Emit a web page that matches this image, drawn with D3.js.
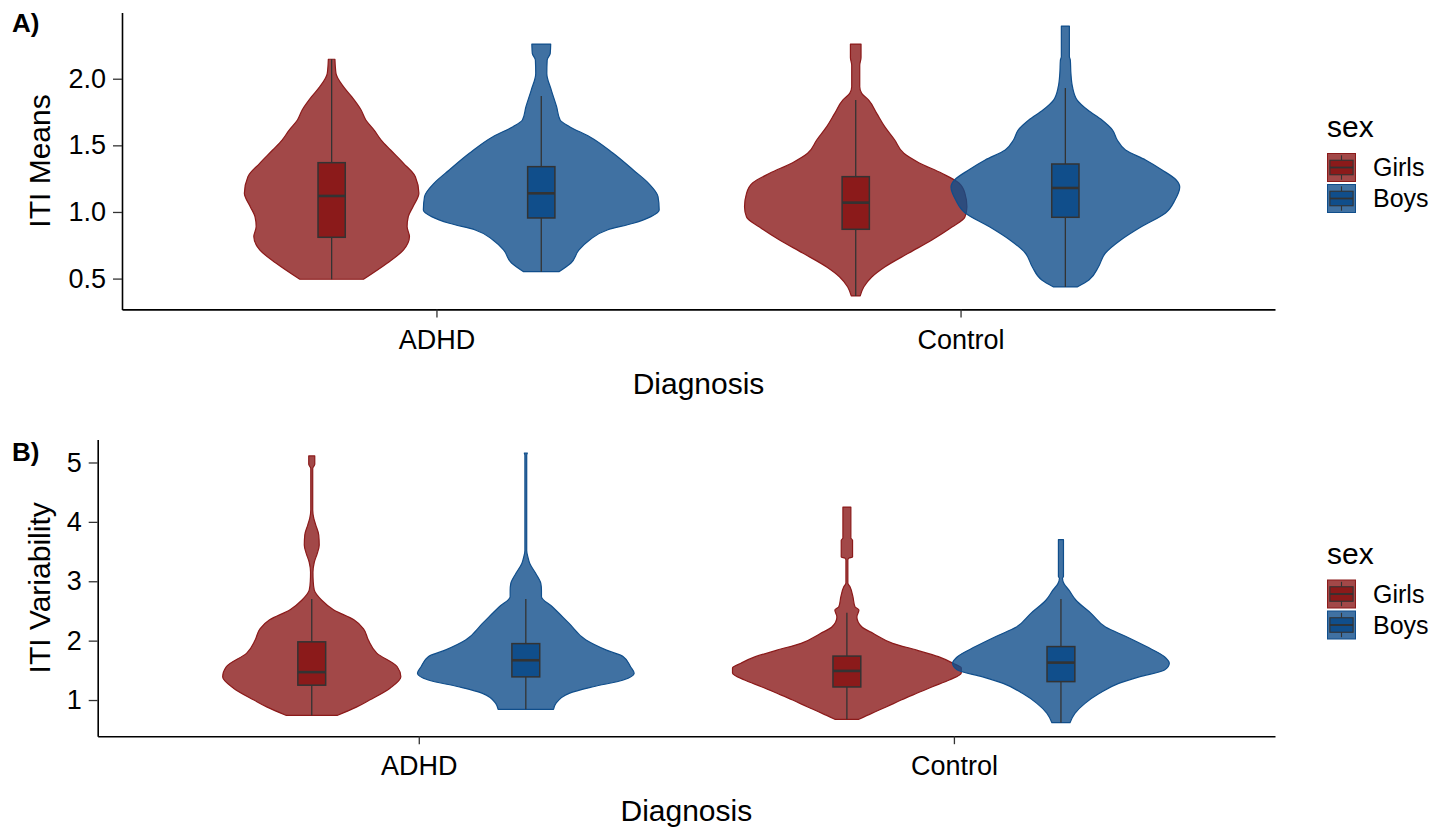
<!DOCTYPE html>
<html>
<head>
<meta charset="utf-8">
<script src="https://cdn.jsdelivr.net/npm/d3@7"></script>
<style>
  body { margin: 0; background: #fff; }
  svg { display: block; }
  text { font-family: "Liberation Sans", Arial, Helvetica, sans-serif; }
</style>
</head>
<body>
<svg id="chart" width="1450" height="830"></svg>
<script>
// ---- data ----------------------------------------------------------------
const categories = ["ADHD", "Control"];
const sexes = ["Girls", "Boys"];
const sexColors = ["#8B1A1A", "#104E8B"];
const meansTicks = [0.5, 1.0, 1.5, 2.0];
const variabilityTicks = [1, 2, 3, 4, 5];

// Violin outlines: value grid (bottom to top) and relative kernel density
const meansADHDGirlsY = [0.495, 0.615, 0.715, 0.815, 0.89, 0.965, 1.04, 1.14, 1.265, 1.365, 1.465, 1.54, 1.615, 1.69, 1.765, 1.865, 1.94, 2.04, 2.146];
const meansADHDGirlsDensity = [0.27, 0.47, 0.61, 0.66, 0.64, 0.65, 0.69, 0.74, 0.71, 0.61, 0.50, 0.42, 0.36, 0.29, 0.25, 0.17, 0.10, 0.037, 0.028];
const meansADHDBoysY = [0.552, 0.615, 0.715, 0.79, 0.865, 0.915, 0.965, 1.015, 1.115, 1.215, 1.315, 1.44, 1.565, 1.64, 1.69, 1.79, 1.915, 2.04, 2.14, 2.19, 2.26];
const meansADHDBoysDensity = [0.15, 0.25, 0.32, 0.41, 0.56, 0.78, 0.93, 1.0, 0.99, 0.91, 0.78, 0.61, 0.41, 0.24, 0.16, 0.13, 0.085, 0.047, 0.05, 0.076, 0.08];
const meansControlGirlsY = [0.37, 0.437, 0.512, 0.587, 0.692, 0.79, 0.887, 0.962, 1.04, 1.14, 1.2175, 1.29, 1.37, 1.44, 1.54, 1.64, 1.74, 1.84, 1.89, 1.94, 2.04, 2.1, 2.16, 2.26];
const meansControlGirlsDensity = [0.038, 0.068, 0.136, 0.246, 0.45, 0.646, 0.816, 0.926, 0.943, 0.926, 0.875, 0.73, 0.535, 0.408, 0.331, 0.246, 0.178, 0.11, 0.051, 0.034, 0.034, 0.034, 0.045, 0.045];
const meansControlBoysY = [0.4375, 0.49, 0.587, 0.692, 0.79, 0.8875, 0.9925, 1.09, 1.1875, 1.24, 1.315, 1.39, 1.465, 1.54, 1.615, 1.69, 1.765, 1.84, 1.94, 2.04, 2.14, 2.165, 2.395];
const meansControlBoysDensity = [0.10, 0.20, 0.28, 0.34, 0.47, 0.64, 0.85, 0.93, 0.97, 0.94, 0.82, 0.68, 0.51, 0.44, 0.40, 0.31, 0.19, 0.10, 0.06, 0.047, 0.042, 0.034, 0.034];

const varADHDGirlsY = [0.74, 0.88, 1.0, 1.2, 1.39, 1.56, 1.79, 2.01, 2.2, 2.35, 2.52, 2.68, 2.85, 3.0, 3.15, 3.32, 3.47, 3.61, 3.78, 3.95, 4.06, 4.2, 4.9, 4.97, 5.11];
const varADHDGirlsDensity = [0.21, 0.37, 0.48, 0.65, 0.74, 0.71, 0.54, 0.47, 0.43, 0.35, 0.18, 0.083, 0.021, 0.012, 0.01, 0.021, 0.046, 0.062, 0.058, 0.033, 0.017, 0.008, 0.008, 0.025, 0.025];
const varADHDBoysY = [0.843, 0.944, 1.113, 1.224, 1.337, 1.45, 1.56, 1.73, 1.84, 2.01, 2.29, 2.57, 2.74, 2.85, 2.96, 3.13, 3.3, 3.41, 3.52, 5.12, 5.16];
const varADHDBoysDensity = [0.23, 0.25, 0.36, 0.56, 0.81, 0.90, 0.87, 0.81, 0.67, 0.50, 0.36, 0.22, 0.13, 0.13, 0.125, 0.083, 0.033, 0.017, 0.0075, 0.0075, 0.0125];
const varControlGirlsY = [0.675, 0.78, 0.887, 1.0, 1.113, 1.224, 1.337, 1.455, 1.54, 1.62, 1.73, 1.84, 1.955, 2.12, 2.23, 2.4, 2.515, 2.57, 2.74, 2.91, 2.97, 3.36, 3.39, 3.41, 3.69, 3.73, 4.25];
const varControlGirlsDensity = [0.10, 0.21, 0.33, 0.45, 0.58, 0.71, 0.85, 0.95, 0.95, 0.88, 0.76, 0.58, 0.38, 0.22, 0.125, 0.083, 0.10, 0.067, 0.05, 0.025, 0.008, 0.008, 0.017, 0.047, 0.047, 0.033, 0.033];
const varControlBoysY = [0.618, 0.776, 0.944, 1.113, 1.28, 1.39, 1.505, 1.62, 1.73, 1.9, 2.07, 2.23, 2.46, 2.68, 2.85, 2.96, 3.05, 3.08, 3.70];
const varControlBoysDensity = [0.075, 0.116, 0.20, 0.32, 0.48, 0.65, 0.86, 0.90, 0.86, 0.71, 0.54, 0.37, 0.25, 0.125, 0.067, 0.025, 0.0125, 0.021, 0.021];

// Box statistics: [lower whisker, Q1, median, Q3, upper whisker]
const meansBoxADHDGirls = [0.495, 0.81, 1.12, 1.37, 2.146];
const meansBoxADHDBoys = [0.552, 0.955, 1.14, 1.34, 1.87];
const meansBoxControlGirls = [0.37, 0.87, 1.07, 1.265, 1.84];
const meansBoxControlBoys = [0.4375, 0.96, 1.18, 1.36, 1.93];
const varBoxADHDGirls = [0.74, 1.25, 1.47, 1.98, 2.70];
const varBoxADHDBoys = [0.843, 1.39, 1.67, 1.95, 2.70];
const varBoxControlGirls = [0.675, 1.22, 1.49, 1.74, 2.47];
const varBoxControlBoys = [0.618, 1.31, 1.63, 1.90, 2.70];

// ---- panel definitions -----------------------------------------------------
const panels = [
  {
    tag: "A)", yTitle: "ITI Means", ticks: meansTicks, fmt: d3.format(".1f"),
    left: 122, right: 1275, top: 12.6, bottom: 309.4, tagY: 32, legendY: 137,
    groups: [
      { cat: "ADHD", sex: 0, vals: meansADHDGirlsY, dens: meansADHDGirlsDensity, box: meansBoxADHDGirls },
      { cat: "ADHD", sex: 1, vals: meansADHDBoysY, dens: meansADHDBoysDensity, box: meansBoxADHDBoys },
      { cat: "Control", sex: 0, vals: meansControlGirlsY, dens: meansControlGirlsDensity, box: meansBoxControlGirls },
      { cat: "Control", sex: 1, vals: meansControlBoysY, dens: meansControlBoysDensity, box: meansBoxControlBoys }
    ]
  },
  {
    tag: "B)", yTitle: "ITI Variability", ticks: variabilityTicks, fmt: d3.format("d"),
    left: 97.7, right: 1275, top: 439.5, bottom: 736.2, tagY: 461, legendY: 563.5,
    groups: [
      { cat: "ADHD", sex: 0, vals: varADHDGirlsY, dens: varADHDGirlsDensity, box: varBoxADHDGirls },
      { cat: "ADHD", sex: 1, vals: varADHDBoysY, dens: varADHDBoysDensity, box: varBoxADHDBoys },
      { cat: "Control", sex: 0, vals: varControlGirlsY, dens: varControlGirlsDensity, box: varBoxControlGirls },
      { cat: "Control", sex: 1, vals: varControlBoysY, dens: varControlBoysDensity, box: varBoxControlBoys }
    ]
  }
];

const svg = d3.select("#chart");
const INK = "#333333";

panels.forEach(p => {
  const g = svg.append("g");

  const x = d3.scalePoint().domain(categories).range([p.left, p.right]).padding(0.6);
  const step = x.step();
  const all = p.groups.flatMap(d => d.vals);
  const [lo, hi] = d3.extent(all);
  const pad = (hi - lo) * 0.05;
  const y = d3.scaleLinear().domain([lo - pad, hi + pad]).range([p.bottom, p.top]);

  const halfMax = 0.225 * step;   // widest violin half-width
  const dodge = 0.2 * step;
  const boxHalf = 0.026 * step;

  const centre = d => x(d.cat) + (d.sex === 0 ? -dodge : dodge);

  // violins
  p.groups.forEach(d => {
    const cx = centre(d);
    const area = d3.area()
      .curve(d3.curveMonotoneY)
      .y(v => y(v[0]))
      .x0(v => cx - v[1] * halfMax)
      .x1(v => cx + v[1] * halfMax);
    g.append("path")
      .attr("d", area(d3.zip(d.vals, d.dens)))
      .attr("fill", sexColors[d.sex])
      .attr("fill-opacity", 0.8)
      .attr("stroke", sexColors[d.sex])
      .attr("stroke-width", 1.2)
      .attr("stroke-linejoin", "round");
  });

  // box plots
  p.groups.forEach(d => {
    const cx = centre(d);
    const [wLo, q1, med, q3, wHi] = d.box;
    g.append("line").attr("x1", cx).attr("x2", cx).attr("y1", y(wHi)).attr("y2", y(q3))
      .attr("stroke", INK).attr("stroke-width", 1.3);
    g.append("line").attr("x1", cx).attr("x2", cx).attr("y1", y(q1)).attr("y2", y(wLo))
      .attr("stroke", INK).attr("stroke-width", 1.3);
    g.append("rect")
      .attr("x", cx - boxHalf).attr("width", 2 * boxHalf)
      .attr("y", y(q3)).attr("height", y(q1) - y(q3))
      .attr("fill", sexColors[d.sex]).attr("stroke", INK).attr("stroke-width", 1.5);
    g.append("line").attr("x1", cx - boxHalf).attr("x2", cx + boxHalf).attr("y1", y(med)).attr("y2", y(med))
      .attr("stroke", INK).attr("stroke-width", 2.6);
  });

  // axes
  const yAxis = g.append("g").attr("transform", `translate(${p.left},0)`)
    .call(d3.axisLeft(y).tickValues(p.ticks).tickFormat(p.fmt).tickSize(9).tickSizeOuter(0).tickPadding(7));
  const xAxis = g.append("g").attr("transform", `translate(0,${p.bottom})`)
    .call(d3.axisBottom(x).tickSize(8).tickSizeOuter(0).tickPadding(12));
  [yAxis, xAxis].forEach(a => {
    a.select(".domain").attr("stroke", "#000").attr("stroke-width", 1.6);
    a.selectAll(".tick line").attr("stroke", INK).attr("stroke-width", 1.3);
    a.selectAll(".tick text").attr("fill", "#000").attr("font-size", 27)
      .style("font-family", "'Liberation Sans', Arial, sans-serif");
  });

  // titles
  g.append("text")
    .attr("transform", `translate(50,${(p.top + p.bottom) / 2}) rotate(-90)`)
    .attr("text-anchor", "middle").attr("font-size", 30).attr("fill", "#000")
    .text(p.yTitle);
  g.append("text")
    .attr("x", (p.left + p.right) / 2).attr("y", p.bottom + 85)
    .attr("text-anchor", "middle").attr("font-size", 30).attr("fill", "#000")
    .text("Diagnosis");
  g.append("text")
    .attr("x", 12).attr("y", p.tagY)
    .attr("font-size", 26).attr("font-weight", "bold").attr("fill", "#000")
    .text(p.tag);

  // legend
  const lx = 1327, key = 29, gap = 31;
  g.append("text").attr("x", lx).attr("y", p.legendY)
    .attr("font-size", 30).attr("fill", "#000").text("sex");
  sexes.forEach((s, i) => {
    const ky = p.legendY + 16 + i * gap;
    const kg = g.append("g").attr("transform", `translate(${lx},${ky})`);
    kg.append("rect").attr("x", 0.5).attr("y", 0.5).attr("width", key - 1).attr("height", key - 1)
      .attr("fill", sexColors[i]).attr("fill-opacity", 0.8)
      .attr("stroke", sexColors[i]).attr("stroke-width", 1);
    kg.append("line").attr("x1", key / 2).attr("x2", key / 2).attr("y1", key * 0.08).attr("y2", key * 0.25)
      .attr("stroke", INK).attr("stroke-width", 1.1);
    kg.append("line").attr("x1", key / 2).attr("x2", key / 2).attr("y1", key * 0.75).attr("y2", key * 0.92)
      .attr("stroke", INK).attr("stroke-width", 1.1);
    kg.append("rect").attr("x", key * 0.1).attr("y", key * 0.25).attr("width", key * 0.8).attr("height", key * 0.5)
      .attr("fill", sexColors[i]).attr("stroke", INK).attr("stroke-width", 1.1);
    kg.append("line").attr("x1", key * 0.1).attr("x2", key * 0.9).attr("y1", key / 2).attr("y2", key / 2)
      .attr("stroke", INK).attr("stroke-width", 1.8);
    g.append("text").attr("x", 1373).attr("y", ky + key / 2).attr("dy", "0.35em")
      .attr("font-size", 25).attr("fill", "#000").text(s);
  });
});
</script>
</body>
</html>
